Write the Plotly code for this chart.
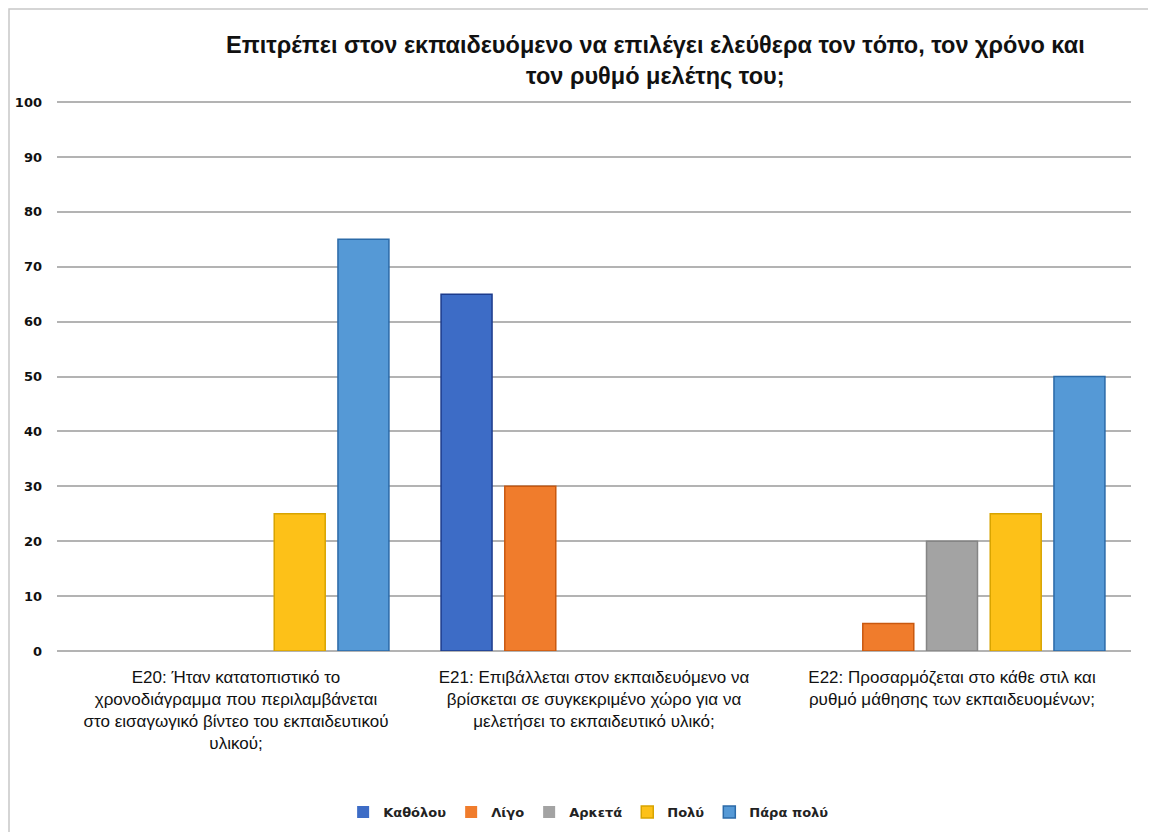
import plotly.graph_objects as go

categories = [
    "Ε20: Ήταν κατατοπιστικό το<br>χρονοδιάγραμμα που περιλαμβάνεται<br>στο εισαγωγικό βίντεο του εκπαιδευτικού<br>υλικού;",
    "Ε21: Επιβάλλεται στον εκπαιδευόμενο να<br>βρίσκεται σε συγκεκριμένο χώρο για να<br>μελετήσει το εκπαιδευτικό υλικό;",
    "Ε22: Προσαρμόζεται στο κάθε στιλ και<br>ρυθμό μάθησης των εκπαιδευομένων;",
]
series_names = ["Καθόλου", "Λίγο", "Αρκετά", "Πολύ", "Πάρα πολύ"]
katholou = [0, 65, 0]
ligo = [0, 30, 5]
arketa = [0, 0, 20]
poly = [25, 0, 25]
para_poly = [75, 0, 50]
values = [katholou, ligo, arketa, poly, para_poly]
y_ticks = [0, 10, 20, 30, 40, 50, 60, 70, 80, 90, 100]

fills = ["#3d6cc6", "#f07c2c", "#a3a3a3", "#fdc118", "#5599d6"]
lines = ["#1c3b8c", "#c9580f", "#858585", "#d8a400", "#2b6aa8"]

title_text = "Επιτρέπει στον εκπαιδευόμενο να επιλέγει ελεύθερα τον τόπο, τον χρόνο και<br>τον ρυθμό μελέτης του;"

FONT = "Liberation Sans, Arial, sans-serif"

fig = go.Figure()
for name, vals, fc, lc in zip(series_names, values, fills, lines):
    fig.add_trace(go.Bar(
        x=categories, y=vals, name="<b>" + name + "</b>",
        marker=dict(color=fc, line=dict(color=lc, width=[1.5 if v else 0 for v in vals])),
    ))

# page body has an 8px margin, so the canvas starts at (8, 8) on screen
OFF = 8
W, H = 1156 - OFF, 832 - OFF
L, T = 57 - OFF, 101 - OFF
R = W - (1131 - OFF)
B = H - (651 - OFF)
pw, ph = W - L - R, H - T - B

def px_x(sx):
    return (sx - OFF - L) / pw

def px_y(sy):
    return 1 - (sy - OFF - T) / ph

fig.update_layout(
    width=W, height=H,
    margin=dict(l=L, r=R, t=T, b=B, autoexpand=False),
    paper_bgcolor="white", plot_bgcolor="white",
    barmode="group", bargap=0.11, bargroupgap=0.2,
    showlegend=True,
    legend=dict(orientation="h", x=0.495, xanchor="center", yref="container", y=1 - (812 - OFF) / H, yanchor="middle",
                font=dict(family="DejaVu Sans", size=13, color="#222"),
                itemwidth=30, traceorder="normal"),
    font=dict(family=FONT, color="#111"),
    annotations=[dict(
        text="<b>" + title_text + "</b>", xref="paper", yref="paper",
        x=px_x(655), y=px_y(60), xanchor="center", yanchor="middle",
        showarrow=False, font=dict(family=FONT, size=23.5, color="#111"),
    )],
    shapes=[dict(type="rect", xref="paper", yref="paper",
                 x0=px_x(9), x1=px_x(1170), y0=px_y(850), y1=px_y(9),
                 line=dict(color="#c8c8c8", width=1.5), fillcolor="rgba(0,0,0,0)", layer="below")],
)
fig.update_yaxes(range=[0, 100.2], tickmode="array", tickvals=y_ticks,
                 ticktext=["<b>%d</b>" % v for v in y_ticks],
                 showgrid=True, gridcolor="#b3b3b3", gridwidth=1.5,
                 zeroline=True, zerolinecolor="#b3b3b3", zerolinewidth=1.5, automargin=False,
                 showline=False, ticks="", ticklabelstandoff=14,
                 tickfont=dict(family="DejaVu Sans", size=13, color="#111"))
fig.update_xaxes(showline=False, ticks="", tickangle=0, automargin=False, ticklabelstandoff=14,
                 tickfont=dict(family=FONT, size=17, color="#111"))

fig.write_html("out.html")
